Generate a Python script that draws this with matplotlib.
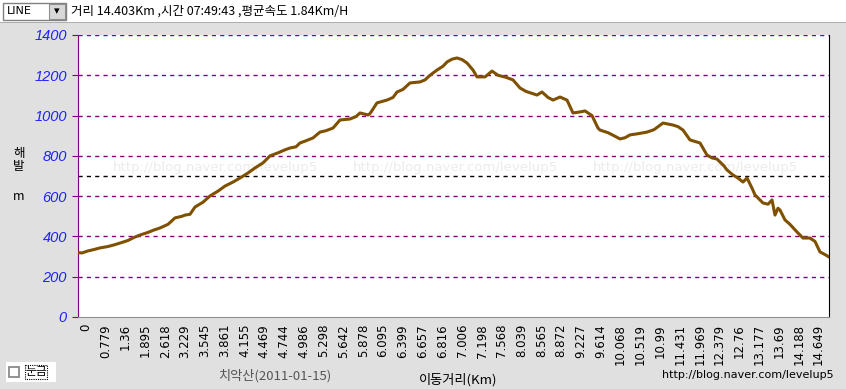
import numpy as np
import matplotlib
matplotlib.use("Agg")
import matplotlib.pyplot as plt
from matplotlib.patches import Rectangle

# 화면 캡처 스타일 고도 프로파일 재현
W, H = 846, 389

# 샘플 위치(그래프 가로 방향 샘플 번호)와 해발고도(m)
sample = [0, 4, 10, 16, 22, 30, 36, 42, 50, 56, 62, 70, 76, 82, 90, 97, 104, 107,
          112, 117, 125, 132, 140, 147, 155, 162, 170, 177, 185, 192, 200, 207, 212,
          218, 222, 228, 235, 242, 248, 255, 262, 272, 278, 282, 290, 292, 299, 309,
          315, 319, 325, 332, 342, 347, 352, 359, 365, 369, 374, 379, 384, 389, 395,
          399, 407, 414, 420, 428, 435, 442, 448, 459, 464, 470, 475, 482, 489, 495,
          502, 507, 514, 520, 522, 530, 536, 542, 547, 552, 560, 569, 576, 585, 590,
          595, 600, 605, 612, 622, 629, 634, 639, 646, 649, 655, 660, 665, 669, 674,
          677, 685, 690, 694, 697, 700, 702, 707, 712, 719, 725, 732, 737, 742, 747, 751]
elev = [320, 318, 328, 335, 343, 350, 358, 367, 380, 395, 407, 420, 432, 442, 460, 492,
        500, 506, 510, 546, 570, 601, 625, 650, 670, 690, 715, 740, 765, 800, 815, 830,
        839, 845, 864, 875, 889, 918, 925, 938, 978, 983, 995, 1013, 1003, 1010, 1063,
        1077, 1090, 1117, 1130, 1162, 1167, 1177, 1200, 1226, 1245, 1266, 1280, 1286,
        1278, 1261, 1226, 1192, 1192, 1221, 1200, 1190, 1177, 1137, 1120, 1102, 1117,
        1090, 1077, 1092, 1077, 1013, 1018, 1023, 1000, 938, 928, 915, 900, 884, 890,
        904, 910, 918, 930, 963, 958, 953, 945, 928, 879, 864, 804, 790, 784, 750, 730,
        705, 690, 670, 690, 640, 606, 566, 560, 581, 506, 540, 531, 482, 460, 422, 392,
        392, 375, 323, 310, 298]

tick_labels = ["0", "0.779", "1.36", "1.895", "2.618", "3.229", "3.545", "3.861",
               "4.155", "4.469", "4.744", "4.986", "5.298", "5.642", "5.878", "6.095",
               "6.399", "6.657", "6.816", "7.006", "7.198", "7.568", "8.039", "8.565",
               "8.872", "9.227", "9.614", "10.068", "10.519", "10.99", "11.431",
               "11.969", "12.379", "12.76", "13.177", "13.69", "14.188", "14.649"]
y_ticks = [0, 200, 400, 600, 800, 1000, 1200, 1400]
ref_level = 700

KR = ["Noto Sans CJK KR", "DejaVu Sans"]
BG = "#e0e0e0"
PURPLE = "#800080"

fig = plt.figure(figsize=(W / 100, H / 100), dpi=100, facecolor=BG)

def px(x0, y0, w, h):
    return [x0 / W, 1 - (y0 + h) / H, w / W, h / H]

# 상단 정보 바
top = fig.add_axes(px(0, 0, W, 23))
top.set_xlim(0, W); top.set_ylim(23, 0); top.axis("off")
top.add_patch(Rectangle((0, 0), W, 23, facecolor="white", edgecolor="none"))
top.plot([0, W], [22.5, 22.5], color="#a0a0a0", lw=1.2)
top.add_patch(Rectangle((3, 3), 63, 17, facecolor="white", edgecolor="#808080", lw=1))
top.add_patch(Rectangle((49, 4), 16, 15, facecolor="#d8d8d8", edgecolor="#909090", lw=0.8))
top.text(57, 11.5, "▾", fontsize=8, ha="center", va="center", family=["DejaVu Sans"])
top.text(7, 11.5, "LINE", fontsize=8, ha="left", va="center", family=["DejaVu Sans"])
top.text(71, 11.5, "거리 14.403Km ,시간 07:49:43 ,평균속도 1.84Km/H", fontsize=9,
         ha="left", va="center", family=KR)

# 본 그래프
ax = fig.add_axes(px(78, 35, 751, 282), facecolor="white")
for cx in [215, 455, 695]:
    ax.text(cx / W, 1 - 167 / H, "http://blog.naver.com/levelup5", fontsize=9.5,
            color="#ececec", ha="center", va="center", family=["DejaVu Sans"],
            transform=fig.transFigure, zorder=0.5)
for v in y_ticks[1:]:
    ax.axhline(v, color=PURPLE, lw=1, ls=(0, (3, 3)), zorder=1)
ax.axhline(ref_level, color="black", lw=1, ls=(0, (3, 3)), zorder=1)
ax.plot(sample, elev, color="#7f5000", lw=2.2, zorder=3)

ax.set_xlim(0, 751)
ax.set_ylim(0, 1400)
tick_pos = [8 + 19.8 * i for i in range(len(tick_labels))]
ax.set_xticks(tick_pos)
ax.set_xticklabels(tick_labels, rotation=90, fontsize=8.5, family=["DejaVu Sans"])
ax.tick_params(axis="x", length=0, pad=5)
ax.set_yticks(y_ticks)
ax.set_yticklabels([str(v) for v in y_ticks], fontsize=10.5, color="#2020ff",
                   style="italic", family=["Liberation Sans"])
ax.tick_params(axis="y", length=4, color=PURPLE, pad=4)
ax.spines["left"].set_color(PURPLE)
ax.spines["bottom"].set_color("#909090")
ax.spines["right"].set_color("black")
ax.spines["top"].set_visible(False)

# 축 제목 및 하단 텍스트
fig.text(19 / W, 1 - 160 / H, "해\n발", fontsize=9, ha="center", va="center",
         family=KR, linespacing=0.95)
fig.text(19 / W, 1 - 197 / H, "m", fontsize=9, ha="center", va="center", family=KR)
fig.text(275 / W, 1 - 376 / H, "치악산(2011-01-15)", fontsize=9.5, color="#555555",
         ha="center", va="center", family=KR)
fig.text(458 / W, 1 - 380 / H, "이동거리(Km)", fontsize=9.5, ha="center", va="center",
         family=KR)
fig.text(748 / W, 1 - 375 / H, "http://blog.naver.com/levelup5", fontsize=8,
         ha="center", va="center", family=["DejaVu Sans"])

# 왼쪽 아래 체크박스
cb = fig.add_axes(px(6, 362, 50, 20))
cb.set_xlim(0, 50); cb.set_ylim(20, 0); cb.axis("off")
cb.add_patch(Rectangle((0, 0), 50, 20, facecolor="white", edgecolor="none"))
cb.add_patch(Rectangle((3, 5), 10, 10, facecolor="white", edgecolor="#808080", lw=1.2))
cb.add_patch(Rectangle((19, 3), 22, 14, facecolor="none", edgecolor="black", lw=0.8,
                       ls=(0, (1, 1))))
cb.text(30, 10, "눈금", fontsize=8.5, ha="center", va="center", family=KR)

fig.savefig("out.png", dpi=100, facecolor=BG)
